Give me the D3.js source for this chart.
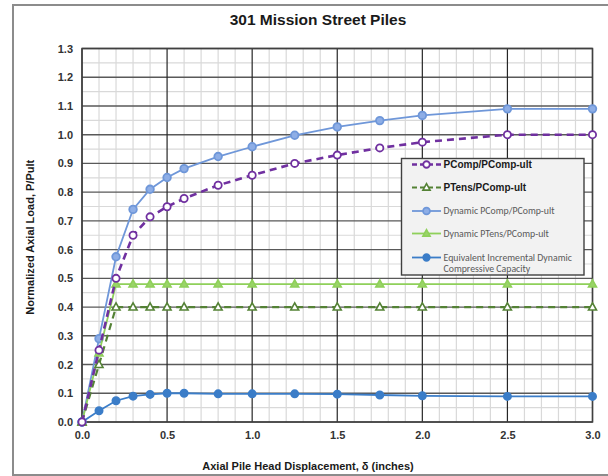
<!DOCTYPE html>
<html>
<head>
<meta charset="utf-8">
<script src="https://cdn.jsdelivr.net/npm/d3@7"></script>
<style>
  html, body { margin: 0; padding: 0; background: #fff; }
  svg { display: block; }
</style>
</head>
<body>
<svg id="chart" width="608" height="476"></svg>
<script>
// Displacement steps (inches)
const displacement = [0, 0.1, 0.2, 0.3, 0.4, 0.5, 0.6, 0.8, 1.0, 1.25, 1.5, 1.75, 2.0, 2.5, 3.0];

// Normalized axial load series
const pComp        = [0, 0.25, 0.50, 0.65, 0.714, 0.749, 0.778, 0.824, 0.859, 0.900, 0.929, 0.954, 0.974, 1.00, 1.00];
const pTens        = [0, 0.20, 0.40, 0.40, 0.40, 0.40, 0.40, 0.40, 0.40, 0.40, 0.40, 0.40, 0.40, 0.40, 0.40];
const dynPComp     = [0, 0.29, 0.575, 0.74, 0.81, 0.851, 0.882, 0.924, 0.958, 0.998, 1.027, 1.049, 1.067, 1.09, 1.09];
const dynPTens     = [0, 0.24, 0.48, 0.48, 0.48, 0.48, 0.48, 0.48, 0.48, 0.48, 0.48, 0.48, 0.48, 0.48, 0.48];
const equivDynComp = [0, 0.039, 0.074, 0.09, 0.096, 0.10, 0.10, 0.098, 0.098, 0.098, 0.097, 0.094, 0.091, 0.089, 0.089];

const xTicks = [0, 0.5, 1.0, 1.5, 2.0, 2.5, 3.0];
const yTicks = [0, 0.1, 0.2, 0.3, 0.4, 0.5, 0.6, 0.7, 0.8, 0.9, 1.0, 1.1, 1.2, 1.3];

const seriesNames = [
  "PComp/PComp-ult",
  "PTens/PComp-ult",
  "Dynamic PComp/PComp-ult",
  "Dynamic PTens/PComp-ult",
  "Equivalent Incremental Dynamic|Compressive Capacity"
];

const svg = d3.select("#chart");
const plot = { left: 82, right: 592.5, top: 48.5, bottom: 422 };

const x = d3.scaleLinear().domain([0, 3]).range([plot.left, plot.right]);
const y = d3.scaleLinear().domain([0, 1.3]).range([plot.bottom, plot.top]);

// Outer chart frame
svg.append("rect")
  .attr("x", 13).attr("y", 5).attr("width", 600).attr("height", 470)
  .attr("fill", "#fff").attr("stroke", "#8c8c8c").attr("stroke-width", 2);

// Title
svg.append("text")
  .attr("x", 318).attr("y", 25)
  .attr("text-anchor", "middle")
  .attr("font-family", "Liberation Sans, Arial, sans-serif")
  .attr("font-weight", "bold").attr("font-size", 15.5)
  .attr("fill", "#1a1a1a")
  .text("301 Mission Street Piles");

const grid = svg.append("g");

// Minor gridlines
grid.selectAll("line.vx").data(d3.range(1, 30).map(i => i / 10).filter(v => Math.abs(v * 2 - Math.round(v * 2)) > 1e-6))
  .enter().append("line")
  .attr("x1", d => x(d)).attr("x2", d => x(d))
  .attr("y1", plot.top).attr("y2", plot.bottom)
  .attr("stroke", "#d9d9d9").attr("stroke-width", 1.2);
grid.selectAll("line.hy").data(d3.range(0, 13).map(i => i / 10 + 0.05))
  .enter().append("line")
  .attr("x1", plot.left).attr("x2", plot.right)
  .attr("y1", d => y(d)).attr("y2", d => y(d))
  .attr("stroke", "#d9d9d9").attr("stroke-width", 1.2);

// Major gridlines
grid.selectAll("line.my").data(yTicks)
  .enter().append("line")
  .attr("x1", plot.left).attr("x2", plot.right)
  .attr("y1", d => y(d)).attr("y2", d => y(d))
  .attr("stroke", "#595959").attr("stroke-width", 1.4);
grid.selectAll("line.mx").data(xTicks)
  .enter().append("line")
  .attr("x1", d => x(d)).attr("x2", d => x(d))
  .attr("y1", plot.top).attr("y2", plot.bottom)
  .attr("stroke", "#262626").attr("stroke-width", 1.2);

// Plot border
svg.append("rect")
  .attr("x", plot.left).attr("y", plot.top)
  .attr("width", plot.right - plot.left).attr("height", plot.bottom - plot.top)
  .attr("fill", "none").attr("stroke", "#404040").attr("stroke-width", 1.5);

// Axes (labels only)
const axisFont = "Liberation Sans, Arial, sans-serif";
const yAxis = svg.append("g").attr("transform", `translate(${plot.left},0)`)
  .call(d3.axisLeft(y).tickValues(yTicks).tickFormat(d3.format(".1f")).tickSize(0).tickPadding(9));
const xAxis = svg.append("g").attr("transform", `translate(0,${plot.bottom})`)
  .call(d3.axisBottom(x).tickValues(xTicks).tickFormat(d3.format(".1f")).tickSize(0).tickPadding(9));
[xAxis, yAxis].forEach(a => {
  a.select(".domain").remove();
  a.selectAll("text")
    .attr("font-family", axisFont).attr("font-weight", "bold")
    .attr("font-size", 11).attr("fill", "#333");
});

// Axis titles
svg.append("text")
  .attr("x", 308).attr("y", 470)
  .attr("text-anchor", "middle")
  .attr("font-family", axisFont).attr("font-weight", "bold").attr("font-size", 11)
  .attr("fill", "#1a1a1a")
  .text("Axial Pile Head Displacement, δ (inches)");
svg.append("text")
  .attr("transform", `translate(34,${(plot.top + plot.bottom) / 2 + 2}) rotate(-90)`)
  .attr("text-anchor", "middle")
  .attr("font-family", axisFont).attr("font-weight", "bold").attr("font-size", 11)
  .attr("fill", "#1a1a1a")
  .text("Normalized Axial Load, P/Pult");

// Series styling
const styles = [
  { values: pComp,        color: "#7030a0", width: 2.6, dash: "7,5", marker: "circle",   fill: "#fff",    r: 3.6 },
  { values: pTens,        color: "#548235", width: 2.2, dash: "7,5", marker: "triangle", fill: "#fff",    r: 4.2 },
  { values: dynPComp,     color: "#6f97d9", width: 1.8, dash: null,  marker: "circle",   fill: "#8eaee6", r: 3.8 },
  { values: dynPTens,     color: "#8fd05a", width: 1.8, dash: null,  marker: "triangle", fill: "#9ad468", r: 4.2 },
  { values: equivDynComp, color: "#3b7dc8", width: 1.8, dash: null,  marker: "circle",   fill: "#3b7dc8", r: 3.6 }
];

const triPath = r => `M0,${-r} L${r * 0.95},${r * 0.7} L${-r * 0.95},${r * 0.7} Z`;

function drawMarker(g, s, cx, cy) {
  if (s.marker === "circle") {
    g.append("circle").attr("cx", cx).attr("cy", cy).attr("r", s.r)
      .attr("fill", s.fill).attr("stroke", s.color).attr("stroke-width", 1.8);
  } else {
    g.append("path").attr("d", triPath(s.r)).attr("transform", `translate(${cx},${cy})`)
      .attr("fill", s.fill).attr("stroke", s.color).attr("stroke-width", 1.6);
  }
}

const line = d3.line().x(d => x(d[0])).y(d => y(d[1]));
const seriesLayer = svg.append("g");
// draw order: dynamic and equivalent below, static curves on top
[2, 3, 4, 1, 0].forEach(i => {
  const s = styles[i];
  const pts = displacement.map((d, k) => [d, s.values[k]]);
  const g = seriesLayer.append("g");
  g.append("path").datum(pts).attr("d", line)
    .attr("fill", "none").attr("stroke", s.color).attr("stroke-width", s.width)
    .attr("stroke-dasharray", s.dash);
  pts.forEach(p => drawMarker(g, s, x(p[0]), y(p[1])));
});

// Legend
const lg = svg.append("g");
lg.append("rect")
  .attr("x", 401.5).attr("y", 158.5).attr("width", 182.5).attr("height", 116.5)
  .attr("fill", "#f2f2f2").attr("stroke", "#404040").attr("stroke-width", 1.4);
const legendY = [164.5, 187.5, 211, 233.5, 257.5];
styles.forEach((s, i) => {
  const ly = legendY[i];
  lg.append("line").attr("x1", 412).attr("x2", 441).attr("y1", ly).attr("y2", ly)
    .attr("stroke", s.color).attr("stroke-width", s.width)
    .attr("stroke-dasharray", s.dash ? "5,3" : null);
  drawMarker(lg, Object.assign({}, s, { r: s.r * 0.9 }), 426.5, ly);
  const bold = i < 2;
  const lines = seriesNames[i].split("|");
  lines.forEach((t, j) => {
    lg.append("text")
      .attr("x", 443.5).attr("y", ly + 3.4 + j * 11)
      .attr("font-family", bold ? axisFont : "Carlito, Open Sans, Liberation Sans, sans-serif")
      .attr("font-weight", bold ? "bold" : "normal")
      .attr("font-size", bold ? 10 : 9.8)
      .attr("fill", bold ? "#1a1a1a" : "#595959")
      .text(t);
  });
});
</script>
</body>
</html>
